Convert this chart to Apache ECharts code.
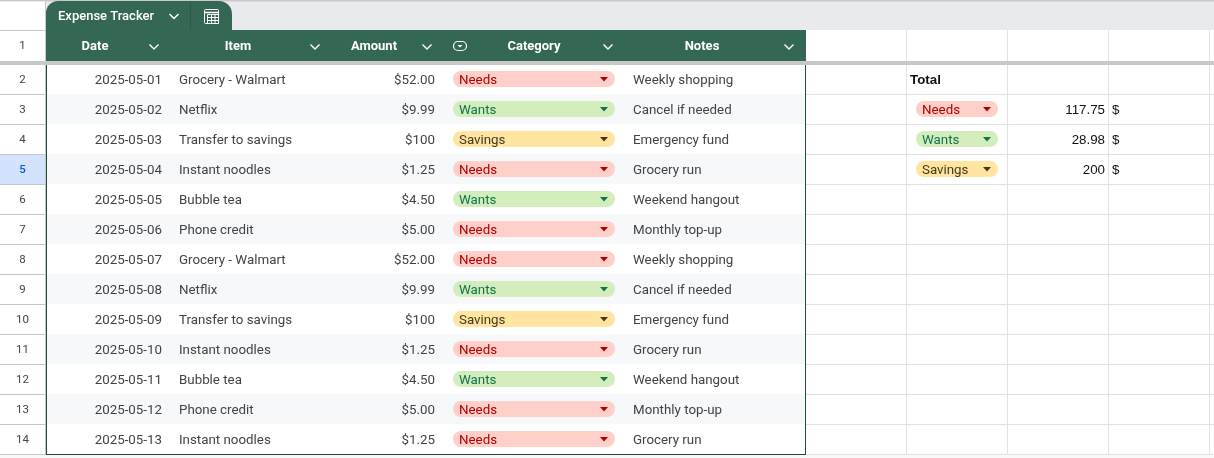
<!DOCTYPE html>
<html>
<head>
<meta charset="utf-8">
<title>Expense Tracker</title>
<script src="https://cdn.jsdelivr.net/npm/echarts@6/dist/echarts.min.js"></script>
<style>
html,body{margin:0;padding:0;background:#fff;}
#main{width:1214px;height:458px;}
</style>
</head>
<body>
<div id="main"></div>
<script>
// table data
var tabName = 'Expense Tracker';
var headers = ['Date', 'Item', 'Amount', 'Category', 'Notes'];
var rowNumbers = ['2','3','4','5','6','7','8','9','10','11','12','13','14'];
var dates = ['2025-05-01','2025-05-02','2025-05-03','2025-05-04','2025-05-05','2025-05-06','2025-05-07','2025-05-08','2025-05-09','2025-05-10','2025-05-11','2025-05-12','2025-05-13'];
var items = ['Grocery - Walmart','Netflix','Transfer to savings','Instant noodles','Bubble tea','Phone credit','Grocery - Walmart','Netflix','Transfer to savings','Instant noodles','Bubble tea','Phone credit','Instant noodles'];
var amounts = ['$52.00','$9.99','$100','$1.25','$4.50','$5.00','$52.00','$9.99','$100','$1.25','$4.50','$5.00','$1.25'];
var categories = ['Needs','Wants','Savings','Needs','Wants','Needs','Needs','Wants','Savings','Needs','Wants','Needs','Needs'];
var notes = ['Weekly shopping','Cancel if needed','Emergency fund','Grocery run','Weekend hangout','Monthly top-up','Weekly shopping','Cancel if needed','Emergency fund','Grocery run','Weekend hangout','Monthly top-up','Grocery run'];
var totalTitle = 'Total';
var totalCategories = ['Needs','Wants','Savings'];
var totalValues = ['117.75','28.98','200'];
var totalUnit = '$';

var GREEN = '#356854';
var BORDER = '#1f4d3c';
var LINE = '#e1e1e1';
var HEADLINE = '#c7c7c7';
var ROBOTO = 'Roboto';
var ARIAL = '"Liberation Sans"';
var chipStyle = {
    Needs: {bg:'#ffcfc9', fg:'#b10202'},
    Wants: {bg:'#d4edbc', fg:'#11734b'},
    Savings: {bg:'#ffe5a0', fg:'#473821'}
};

function txt(x, y, s, o){
    o = o || {};
    return {type:'text', x:x, y:y, silent:true, style:{
        text:s, fill:o.fill||'#434343', font:(o.weight||'400')+' '+(o.size||13.33)+'px '+(o.family||ROBOTO),
        align:o.align||'left', verticalAlign:'middle'
    }};
}
function seg(x1, y1, x2, y2, c, w){
    return {type:'line', silent:true, shape:{x1:x1,y1:y1,x2:x2,y2:y2}, style:{stroke:c,lineWidth:w||1}};
}
function chevron(cx, cy){
    return {type:'polyline', silent:true, shape:{points:[[cx-4.5,cy-2],[cx,cy+2.5],[cx+4.5,cy-2]]},
        style:{stroke:'#fff',lineWidth:1.4,fill:null}};
}
function chip(x, y, w, name){
    var st = chipStyle[name];
    var r = x+w-11;
    return [
        {type:'rect', silent:true, shape:{x:x,y:y-8,width:w,height:16,r:8}, style:{fill:st.bg}},
        txt(x+6, y+1.5, name, {fill:st.fg}),
        {type:'polygon', silent:true, shape:{points:[[r-4,y-2],[r+4,y-2],[r,y+2.5]]}, style:{fill:st.fg}}
    ];
}

// sheet chrome behind the series
var chrome = [];
chrome.push({type:'rect', silent:true, shape:{x:0,y:0,width:1214,height:30}, style:{fill:'#e8eaed'}});
chrome.push({type:'rect', silent:true, shape:{x:0,y:0,width:1214,height:1.5}, style:{fill:'#c7c9cc'}});
chrome.push({type:'rect', silent:true, shape:{x:0,y:1.5,width:45.5,height:28.5}, style:{fill:'#fff'}});
chrome.push({type:'rect', silent:true, shape:{x:0,y:455,width:1214,height:3}, style:{fill:'#f8f9fa'}});
var k;
for(k=0;k<13;k++){
    chrome.push(seg(0, 94.5+30*k, 45, 94.5+30*k, HEADLINE));
}
chrome.push(seg(0, 30.5, 45, 30.5, HEADLINE));
for(k=0;k<13;k++){
    chrome.push(seg(806, 94.5+30*k, 1214, 94.5+30*k, LINE));
}
[906.5,1007.5,1108.5,1209.5].forEach(function(x){
    chrome.push(seg(x, 30, x, 455, LINE));
});
chrome.push(seg(45.5, 0, 45.5, 455, HEADLINE));
// selected row header
chrome.push({type:'rect', silent:true, shape:{x:0,y:155,width:45,height:29}, style:{fill:'#d3e3fd'}});
// frozen bar
chrome.push({type:'rect', silent:true, shape:{x:0,y:61,width:1214,height:4}, style:{fill:'#c7c8c7'}});
// tab
chrome.push({type:'rect', silent:true, shape:{x:46,y:1,width:186,height:29,r:[12,13,0,0]}, style:{fill:GREEN}});
chrome.push(seg(190.5, 2, 190.5, 30, '#2d5a48'));
chrome.push(txt(58, 16.5, tabName, {fill:'#fff',size:13,weight:'500'}));
chrome.push(chevron(174, 16));
chrome.push({type:'rect', silent:true, shape:{x:204.5,y:9.5,width:14,height:14,r:1}, style:{stroke:'#fff',fill:null,lineWidth:1}});
chrome.push(seg(204,12.5,219,12.5,'#fff',1.5));
chrome.push({type:'rect', silent:true, shape:{x:207.5,y:14.5,width:11,height:9}, style:{stroke:'#fff',fill:null,lineWidth:1}});
chrome.push(seg(207,17.5,219,17.5,'#fff',1), seg(207,20.5,219,20.5,'#fff',1), seg(211.5,14,211.5,24,'#fff',1), seg(215,14,215,24,'#fff',1));
// header row
chrome.push({type:'rect', silent:true, shape:{x:46,y:30,width:760,height:31}, style:{fill:GREEN}});
var headCenters = [95, 238, 374, 534, 702];
var headChevrons = [154, 315, 427, 608, 789];
headers.forEach(function(h, i){
    chrome.push(txt(headCenters[i], 46.5, h, {fill:'#fff',weight:'700',align:'center',size:13}));
    chrome.push(chevron(headChevrons[i], 46.5));
});
// dropdown column icon
chrome.push({type:'rect', silent:true, shape:{x:453.5,y:41.5,width:13,height:9,r:4.5}, style:{stroke:'#fff',fill:null,lineWidth:1.2}});
chrome.push({type:'polygon', silent:true, shape:{points:[[457.5,45],[462.5,45],[460,47.5]]}, style:{fill:'#fff'}});
// row numbers above the header column
chrome.push(txt(22.5, 46, '1', {align:'center',size:11.5,fill:'#444'}));
// table outline
chrome.push(seg(46.5, 65, 46.5, 454.5, BORDER));
chrome.push(seg(805.5, 65, 805.5, 454.5, BORDER));
chrome.push(seg(46, 454.5, 806, 454.5, BORDER));

function renderRow(params, api){
    var i = api.value(1);
    var p = api.coord([0, i]);
    var band = api.size([0, 1])[1];
    var y = p[1];
    var ch = [];
    if(i%2==1){
        ch.push({type:'rect', silent:true, shape:{x:47,y:y-band/2,width:758,height:band}, style:{fill:'#f6f8f9'}});
    }
    var sel = i==3;
    ch.push(txt(22.5, y+1, rowNumbers[i], {align:'center',size:11.5,weight:sel?'500':'400',fill:sel?'#0b57d0':'#444'}));
    ch.push(txt(162, y+1.5, dates[i], {align:'right'}));
    ch.push(txt(179, y+1.5, items[i]));
    ch.push(txt(435, y+1.5, amounts[i], {align:'right'}));
    ch = ch.concat(chip(453, y, 162, categories[i]));
    ch.push(txt(633, y+1.5, notes[i]));
    return {type:'group', children:ch};
}
function renderTotal(params, api){
    var i = api.value(1);
    var y = api.coord([0, i])[1];
    var ch = chip(916, y, 82, totalCategories[i-1]);
    ch.push(txt(1105, y+1.5, totalValues[i-1], {align:'right',family:ARIAL,fill:'#111'}));
    ch.push(txt(1112, y+1.5, totalUnit, {family:ARIAL,fill:'#111'}));
    return {type:'group', children:ch};
}
function renderTitle(params, api){
    var y = api.coord([0, api.value(1)])[1];
    return txt(910, y+1.5, totalTitle, {family:ARIAL,weight:'700',fill:'#111'});
}

var chart = echarts.init(document.getElementById('main'), null, {renderer:'canvas'});
chart.setOption({
    animation:false,
    backgroundColor:'#fff',
    graphic:{elements:chrome},
    grid:{left:0, top:64, width:1214, height:390},
    xAxis:{type:'value', min:0, max:1214, show:false},
    yAxis:{type:'category', inverse:true, data:rowNumbers, show:false},
    series:[
        {type:'custom', renderItem:renderRow, clip:false, silent:true, encode:{x:0,y:1},
            data:rowNumbers.map(function(r,i){return [0,i];})},
        {type:'custom', renderItem:renderTitle, clip:false, silent:true, encode:{x:0,y:1},
            data:[[0,0]]},
        {type:'custom', renderItem:renderTotal, clip:false, silent:true, encode:{x:0,y:1},
            data:totalCategories.map(function(c,i){return [0,i+1];})}
    ]
});
</script>
</body>
</html>
